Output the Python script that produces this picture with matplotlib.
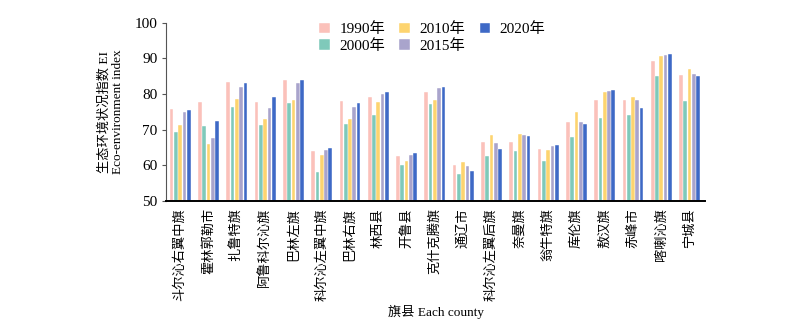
import matplotlib
matplotlib.use("Agg")
import matplotlib.pyplot as plt
import numpy as np

plt.rcParams['font.family'] = ['Liberation Serif', 'Noto Sans CJK SC', 'DejaVu Sans']

categories = ["斗尔沁右翼中旗", "霍林郭勒市", "扎鲁特旗", "阿鲁科尔沁旗", "巴林左旗",
              "科尔沁左翼中旗", "巴林右旗", "林西县", "开鲁县", "克什克腾旗",
              "通辽市", "科尔沁左翼后旗", "奈曼旗", "翁牛特旗", "库伦旗",
              "敖汉旗", "赤峰市", "喀喇沁旗", "宁城县"]
series_names = ["1990年", "2000年", "2010年", "2015年", "2020年"]
v1990 = [75.8, 77.7, 83.3, 77.7, 83.9, 64.1, 78.0, 79.2, 62.5, 80.7, 60.1, 66.5, 66.5, 64.7, 72.1, 78.3, 78.2, 89.3, 85.3]
v2000 = [69.4, 70.9, 76.4, 71.2, 77.4, 58.0, 71.5, 74.1, 60.0, 77.1, 57.5, 62.7, 64.0, 61.1, 67.9, 73.4, 74.0, 85.1, 78.0]
v2010 = [71.2, 66.0, 78.6, 73.1, 78.3, 62.9, 73.0, 77.8, 61.2, 78.3, 60.9, 68.5, 68.7, 64.4, 74.9, 80.5, 79.2, 90.7, 86.9]
v2015 = [74.9, 67.7, 82.0, 76.1, 83.1, 64.4, 76.3, 80.1, 62.9, 81.7, 59.7, 66.4, 68.4, 65.5, 72.1, 80.8, 78.2, 90.9, 85.6]
v2020 = [75.5, 72.5, 83.0, 79.1, 83.8, 64.9, 77.5, 80.5, 63.6, 82.1, 58.3, 64.5, 68.3, 65.6, 71.6, 81.1, 76.2, 91.1, 85.1]
yticks = [50, 60, 70, 80, 90, 100]

colors = ["#FBC1BA", "#7FC9BA", "#FDD46F", "#A9A4CC", "#3E69C6"]
data = [v1990, v2000, v2010, v2015, v2020]

fig = plt.figure(figsize=(8, 3.29), dpi=100)
ax = fig.add_axes([0.2075, 0.389, 0.674, 0.542])

x = np.arange(len(categories))
pitch = 0.152
width = 0.13
for i, (vals, c, name) in enumerate(zip(data, colors, series_names)):
    ax.bar(x + (i - 2) * pitch, np.array(vals) - 50, width=width, bottom=50,
           color=c, edgecolor='white', linewidth=0.3, label=name, zorder=2)

ax.set_ylim(50, 100)
ax.set_xlim(-0.5, len(categories) - 0.45)
ax.set_yticks(yticks)
ax.set_yticklabels([str(t) for t in yticks], fontsize=11)
ax.set_xticks(x)
ax.set_xticklabels(categories, rotation=90, fontsize=9.5, va='top', ha='center')
ax.tick_params(axis='x', length=0, pad=5)
ax.tick_params(axis='y', direction='out', length=3, width=0.8, color='#555555', pad=3)

for s in ['top', 'right']:
    ax.spines[s].set_visible(False)
ax.spines['left'].set_color('#555555')
ax.spines['left'].set_linewidth(0.8)
ax.spines['bottom'].set_color('black')
ax.spines['bottom'].set_linewidth(1.4)

ax.set_ylabel("生态环境状况指数 EI\nEco-environment index", fontsize=9.5, labelpad=8, linespacing=1.1)
ax.set_xlabel("旗县 Each county", fontsize=9.5, labelpad=3)

leg = ax.legend(ncol=3, loc='upper left', bbox_to_anchor=(0.273, 1.035), frameon=False,
                fontsize=11, handlelength=0.7, handleheight=0.7, handletextpad=0.6,
                columnspacing=0.95, labelspacing=0.15, borderaxespad=0)

fig.savefig("out.png", dpi=100)
